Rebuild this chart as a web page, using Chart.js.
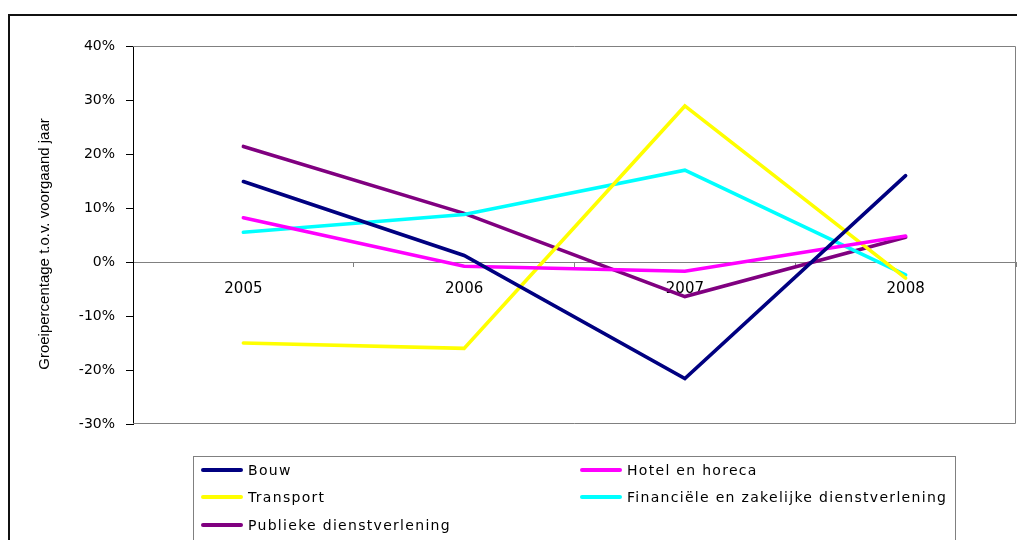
<!DOCTYPE html>
<html>
<head>
<meta charset="utf-8">
<script src="https://cdn.jsdelivr.net/npm/chart.js@4"></script>
<style>
body { margin: 0; background: #fff; }
#wrap { position: relative; width: 1017px; height: 540px; overflow: hidden; }
#frame { position: absolute; left: 8px; top: 14px; width: 1100px; height: 600px; border-top: 2px solid #111; border-left: 2px solid #111; }
canvas { position: absolute; left: 0; top: 0; }
#legend { position: absolute; left: 193px; top: 456px; width: 761px; height: 120px; border: 1px solid #808080;
  font-family: "DejaVu Sans"; font-size: 14px; letter-spacing: 1.3px; color: #000; }
.item { position: absolute; height: 20px; line-height: 20px; white-space: nowrap; }
.sw { position: absolute; left: 0; top: 8px; width: 42px; height: 4px; border-radius: 2px; }
.tx { position: absolute; left: 47px; top: 0; }
</style>
</head>
<body>
<div id="wrap">
  <div id="frame"></div>
  <canvas id="groei" width="1017" height="540"></canvas>
  <div id="legend"></div>
</div>
<script>
// groeipercentages t.o.v. voorgaand jaar
const years = ["2005", "2006", "2007", "2008"];
const bouw = [14.9, 1.2, -21.6, 16.0];
const hotel = [8.2, -0.8, -1.7, 4.8];
const transport = [-15.0, -16.0, 28.9, -3.0];
const financieel = [5.5, 8.8, 17.0, -2.4];
const publiek = [21.4, 9.0, -6.4, 4.6];

const names = ["Bouw", "Hotel en horeca", "Transport", "Financiële en zakelijke dienstverlening", "Publieke dienstverlening"];
const colors = ["#000080", "#FF00FF", "#FFFF00", "#00FFFF", "#800080"];
const series = [bouw, hotel, transport, financieel, publiek];
const yTitle = "Groeipercentage t.o.v. voorgaand jaar";

const datasets = series.map((values, i) => ({
  label: names[i],
  data: values,
  borderColor: colors[i],
  backgroundColor: colors[i],
  borderWidth: 3.6,
  borderCapStyle: "round",
  borderJoinStyle: "miter",
  pointRadius: 0,
  tension: 0,
}));

// grijze rand rond het plotgebied (boven, rechts, onder) + astitel
const plotBorder = {
  id: "plotBorder",
  beforeDatasetsDraw(chart) {
    const { ctx, chartArea: a } = chart;
    ctx.save();
    ctx.strokeStyle = "#808080";
    ctx.lineWidth = 1;
    ctx.beginPath();
    ctx.moveTo(a.left, a.top + 0.5);
    ctx.lineTo(a.right - 0.5, a.top + 0.5);
    ctx.lineTo(a.right - 0.5, a.bottom - 0.5);
    ctx.lineTo(a.left, a.bottom - 0.5);
    ctx.stroke();

    ctx.translate(45, 244);
    ctx.rotate(-Math.PI / 2);
    ctx.fillStyle = "#000";
    ctx.font = "15px 'Liberation Sans'";
    ctx.textAlign = "center";
    ctx.textBaseline = "middle";
    ctx.fillText(yTitle, 0, 0);
    ctx.restore();
  }
};

new Chart(document.querySelector("#groei"), {
  type: "line",
  data: { labels: years, datasets: datasets },
  options: {
    responsive: false,
    animation: false,
    layout: { padding: { left: 0, top: 46, right: 1, bottom: 116 } },
    plugins: { legend: { display: false }, tooltip: { enabled: false } },
    scales: {
      x: {
        position: { y: 0 },
        offset: true,
        grid: { drawOnChartArea: false, color: "#808080", tickLength: 4, offset: true },
        border: { color: "#808080", width: 1 },
        ticks: { color: "#000", font: { family: "DejaVu Sans", size: 15 }, padding: 14, maxRotation: 0 }
      },
      y: {
        min: -30,
        max: 40,
        afterFit(scale) { scale.width = 133; },
        grid: { drawOnChartArea: false, color: "#000", tickLength: 7 },
        border: { color: "#000", width: 1 },
        ticks: {
          stepSize: 10,
          color: "#000",
          padding: 11,
          font: { family: "DejaVu Sans", size: 14 },
          callback: (v) => v + "%"
        }
      }
    }
  },
  plugins: [plotBorder]
});

// legenda in twee kolommen
const legend = document.querySelector("#legend");
const colX = [7, 386];
const rowY = [3, 30, 58];
names.forEach((name, i) => {
  const item = document.createElement("div");
  item.className = "item";
  item.style.left = colX[i % 2] + "px";
  item.style.top = rowY[Math.floor(i / 2)] + "px";
  item.innerHTML = '<span class="sw" style="background:' + colors[i] + '"></span><span class="tx"></span>';
  item.querySelector(".tx").textContent = name;
  legend.appendChild(item);
});
</script>
</body>
</html>
